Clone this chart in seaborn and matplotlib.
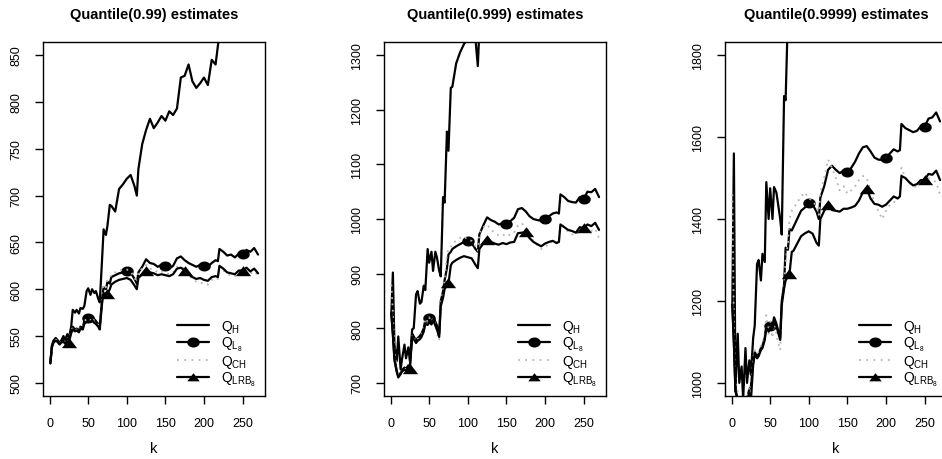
import numpy as np
import pandas as pd
import matplotlib
matplotlib.use("Agg")
import matplotlib.pyplot as plt
from matplotlib.lines import Line2D
import seaborn as sns

# k values shared by all series
k = [1, 3, 5, 8, 10, 13, 15, 18, 20, 23, 25, 28, 30, 33, 35, 38, 40, 43, 45, 48,
     50, 53, 55, 58, 60, 63, 65, 68, 70, 73, 75, 78, 80, 85, 90, 95, 100, 105, 110, 113,
     115, 120, 125, 130, 135, 140, 145, 150, 155, 160, 165, 170, 175, 180, 185, 190, 195, 200, 205, 210,
     215, 218, 220, 225, 230, 235, 240, 245, 250, 255, 260, 265, 270]

titles = ["Quantile(0.99) estimates", "Quantile(0.999) estimates", "Quantile(0.9999) estimates"]
y_ranges = [(500, 850), (700, 1300), (1000, 1800)]
y_ticks = [[500, 550, 600, 650, 700, 750, 800, 850],
           [700, 800, 900, 1000, 1100, 1200, 1300],
           [1000, 1200, 1400, 1600, 1800]]
x_ticks = [0, 50, 100, 150, 200, 250]

# ---- panel 1 : q = 0.99 ----
p1_H = [521, 540, 545, 548, 546, 543, 545, 550, 546, 552, 548, 560, 578, 575, 578, 574, 580, 579, 582, 598,
        601, 594, 600, 596, 598, 590, 586, 632, 664, 658, 668, 690, 689, 683, 707, 712, 718, 722, 710, 700,
        728, 755, 770, 782, 772, 778, 785, 780, 790, 786, 793, 826, 828, 840, 822, 815, 820, 826, 818, 845,
        840, 860, 872, 885, 895, 905, 915, 925, 935, 945, 955, 960, 965]
p1_L8 = [521, 538, 544, 546, 545, 542, 544, 546, 543, 547, 546, 556, 560, 557, 558, 556, 560, 559, 566, 568,
         569, 568, 571, 568, 566, 563, 560, 590, 602, 600, 608, 606, 613, 615, 617, 618, 620, 618, 611, 606,
         618, 624, 632, 628, 627, 624, 626, 625, 622, 625, 633, 635, 631, 628, 626, 624, 626, 625, 624, 628,
         631, 630, 643, 640, 636, 637, 634, 638, 638, 642, 640, 644, 637]
p1_CH = [520, 537, 544, 546, 545, 542, 544, 546, 543, 546, 545, 555, 559, 556, 557, 555, 559, 558, 566, 568,
         569, 567, 570, 566, 565, 562, 559, 592, 605, 602, 610, 612, 616, 618, 620, 621, 621, 619, 612, 607,
         619, 622, 626, 622, 621, 618, 619, 618, 616, 618, 624, 625, 621, 615, 611, 608, 607, 606, 605, 610,
         612, 611, 624, 620, 616, 615, 614, 618, 618, 620, 617, 619, 615]
p1_LRB8 = [521, 538, 543, 545, 544, 541, 543, 544, 542, 544, 543, 553, 557, 555, 556, 554, 558, 557, 563, 565,
           566, 565, 567, 564, 563, 560, 557, 585, 596, 594, 595, 600, 605, 608, 610, 611, 612, 610, 604, 600,
           612, 616, 620, 618, 617, 615, 616, 615, 614, 616, 622, 623, 620, 616, 613, 611, 612, 610, 609, 613,
           614, 613, 625, 622, 618, 617, 616, 620, 620, 623, 619, 622, 617]

# ---- panel 2 : q = 0.999 ----
p2_H = [827, 902, 770, 740, 785, 725, 745, 770, 745, 765, 740, 798, 800, 862, 868, 845, 848, 878, 870, 945,
        920, 940, 905, 940, 930, 905, 895, 1040, 1030, 1160, 1125, 1240, 1242, 1285, 1305, 1320, 1330, 1335, 1328, 1280,
        1345, 1380, 1400, 1420, 1430, 1440, 1450, 1460, 1470, 1480, 1490, 1500, 1510, 1520, 1525, 1530, 1535, 1540, 1545, 1550,
        1555, 1560, 1570, 1575, 1580, 1585, 1590, 1595, 1600, 1605, 1610, 1615, 1620]
p2_L8 = [827, 790, 745, 722, 712, 718, 724, 728, 726, 732, 730, 790, 785, 778, 782, 786, 790, 800, 815, 812,
         818, 814, 822, 812, 805, 790, 850, 868, 888, 910, 935, 940, 945, 950, 954, 958, 960, 956, 945, 940,
         972, 988, 1003, 998, 995, 990, 992, 990, 996, 1002, 1018, 1020, 1014, 1005, 1000, 998, 997, 1000, 1005, 1010,
         1012, 1010, 1045, 1040, 1033, 1031, 1030, 1040, 1036, 1050, 1049, 1055, 1040]
p2_CH = [880, 830, 760, 725, 714, 718, 722, 727, 724, 730, 728, 788, 783, 776, 780, 784, 788, 798, 818, 812,
         820, 812, 818, 808, 790, 778, 845, 870, 890, 935, 945, 948, 955, 960, 965, 968, 962, 960, 950, 942,
         975, 985, 990, 980, 975, 970, 972, 968, 972, 975, 988, 992, 985, 970, 960, 952, 945, 948, 955, 960,
         958, 956, 992, 985, 976, 972, 970, 980, 975, 982, 978, 982, 965]
p2_LRB8 = [827, 788, 742, 720, 710, 716, 721, 724, 722, 727, 726, 785, 780, 773, 777, 780, 784, 794, 808, 806,
           811, 807, 815, 805, 798, 784, 840, 856, 872, 878, 882, 915, 920, 925, 929, 932, 930, 928, 916, 910,
           945, 955, 962, 958, 955, 953, 956, 954, 957, 958, 974, 975, 976, 965, 958, 954, 950, 955, 958, 960,
           956, 958, 990, 985, 980, 978, 975, 985, 983, 990, 987, 993, 980]

# ---- panel 3 : q = 0.9999 ----
p3_H = [1190, 1560, 980, 1120, 1000, 1040, 960, 1085, 1000, 1055, 1020, 1110, 1140, 1290, 1300, 1250, 1315, 1295, 1490, 1400,
        1475, 1400, 1478, 1465, 1440, 1400, 1362, 1700, 1690, 1900, 1950, 2000, 2020, 2050, 2080, 2100, 2120, 2140, 2150, 2160,
        2170, 2190, 2210, 2230, 2240, 2250, 2260, 2270, 2280, 2290, 2300, 2320, 2330, 2340, 2350, 2360, 2370, 2380, 2390, 2400,
        2410, 2415, 2420, 2430, 2440, 2450, 2460, 2470, 2480, 2490, 2500, 2510, 2520]
p3_L8 = [1190, 1100, 985, 960, 950, 940, 955, 965, 960, 985, 990, 1050, 1075, 1065, 1070, 1085, 1090, 1110, 1140, 1130,
         1140, 1135, 1160, 1145, 1130, 1110, 1200, 1240, 1330, 1325, 1375, 1372, 1380, 1400, 1420, 1428, 1438, 1435, 1418, 1400,
         1452, 1480, 1520, 1530, 1520, 1512, 1518, 1514, 1525, 1540, 1560, 1575, 1578, 1565, 1550, 1545, 1544, 1548, 1560, 1570,
         1565, 1568, 1632, 1622, 1617, 1612, 1615, 1626, 1625, 1645, 1648, 1660, 1638]
p3_CH = [1460, 1150, 1000, 980, 960, 950, 965, 970, 960, 990, 985, 1060, 1080, 1070, 1075, 1090, 1095, 1120, 1165, 1120,
         1150, 1110, 1150, 1120, 1100, 1080, 1180, 1230, 1300, 1340, 1400, 1420, 1425, 1440, 1455, 1465, 1450, 1445, 1430, 1410,
         1465, 1500, 1545, 1525, 1500, 1470, 1480, 1462, 1470, 1480, 1495, 1505, 1500, 1470, 1440, 1420, 1400, 1420, 1435, 1440,
         1452, 1450, 1525, 1500, 1488, 1480, 1478, 1490, 1488, 1500, 1495, 1490, 1460]
p3_LRB8 = [1190, 1095, 980, 955, 945, 935, 950, 960, 955, 975, 955, 1045, 1070, 1060, 1065, 1080, 1085, 1105, 1135, 1125,
           1135, 1130, 1155, 1140, 1125, 1105, 1190, 1230, 1250, 1260, 1266, 1320, 1322, 1340, 1358, 1365, 1370, 1364, 1342, 1335,
           1400, 1420, 1435, 1422, 1420, 1418, 1425, 1425, 1428, 1432, 1445, 1465, 1474, 1450, 1437, 1435, 1430, 1435, 1445, 1455,
           1450, 1455, 1505, 1500, 1490, 1482, 1485, 1495, 1495, 1510, 1508, 1518, 1495]

panels = [(p1_H, p1_L8, p1_CH, p1_LRB8),
          (p2_H, p2_L8, p2_CH, p2_LRB8),
          (p3_H, p3_L8, p3_CH, p3_LRB8)]

circle_k = [50, 100, 150, 200, 250]
triangle_k = [25, 75, 125, 175, 250]
circle_idx = [k.index(v) for v in circle_k]
triangle_idx = [k.index(v) for v in triangle_k]

sns.set_style("ticks")
plt.rcParams['font.family'] = ['Liberation Sans', 'DejaVu Sans']
plt.rcParams['mathtext.fontset'] = 'custom'
plt.rcParams['mathtext.rm'] = 'Liberation Sans'
plt.rcParams['axes.edgecolor'] = 'black'
plt.rcParams['axes.linewidth'] = 1.0
plt.rcParams['text.color'] = 'black'
plt.rcParams['axes.labelcolor'] = 'black'
plt.rcParams['xtick.color'] = 'black'
plt.rcParams['ytick.color'] = 'black'

# wide triangle / circle markers (the reference looks a bit stretched)
tri = [(-1.3, -0.8), (1.3, -0.8), (0, 0.9), (-1.3, -0.8)]
ang = np.linspace(0, 2 * np.pi, 40)
ell = list(zip(1.25 * np.cos(ang), np.sin(ang)))

grey = '#b5b5b5'
fig = plt.figure(figsize=(9.42, 4.6), dpi=100)
lefts = [43 / 942, 384 / 942, 725 / 942]

for i, (qh, ql8, qch, qlrb) in enumerate(panels):
    ax = fig.add_axes([lefts[i], 63 / 460, 222 / 942, 354 / 460])
    sns.lineplot(x=k, y=qh, ax=ax, color='black', lw=1.6)
    sns.lineplot(x=k, y=ql8, ax=ax, color='black', lw=1.6, marker=ell,
                 markevery=circle_idx, markersize=9, markeredgewidth=0)
    sns.lineplot(x=k, y=qch, ax=ax, color=grey, lw=1.3, linestyle=(0, (1, 2.5)))
    sns.lineplot(x=k, y=qlrb, ax=ax, color='black', lw=1.6, marker=tri,
                 markevery=triangle_idx, markersize=11, markeredgewidth=0)

    lo, hi = y_ranges[i]
    pad = (hi - lo) * 0.04
    ax.set_ylim(lo - pad, hi + pad)
    ax.set_xlim(-8.5, 279)
    ax.set_xticks(x_ticks)
    ax.set_yticks(y_ticks[i])
    ax.tick_params(axis='both', direction='out', length=6, width=1, labelsize=9,
                   color='black', labelcolor='black')
    ax.tick_params(axis='x', pad=9)
    ax.tick_params(axis='y', labelrotation=90, pad=9)
    for lab in ax.get_yticklabels():
        lab.set_va('center')
    for sp in ax.spines.values():
        sp.set_visible(True)
        sp.set_color('black')
    ax.set_title(titles[i], fontsize=10.5, fontweight='bold', pad=17, color='black')
    ax.set_xlabel('k', fontsize=10.5, labelpad=9, color='black')
    ax.set_ylabel('')

    handles = [
        Line2D([], [], color='black', lw=1.6),
        Line2D([], [], color='black', lw=1.6, marker=ell, markersize=9, markeredgewidth=0),
        Line2D([], [], color=grey, lw=1.3, linestyle=(0, (1, 3))),
        Line2D([], [], color='black', lw=1.6, marker=tri, markersize=9, markeredgewidth=0),
    ]
    labels = [r'$\mathregular{Q_{H}}$', r'$\mathregular{Q_{L_8}}$',
              r'$\mathregular{Q_{CH}}$', r'$\mathregular{Q_{LRB_8}}$']
    ax.legend(handles, labels, loc='lower right', frameon=False, fontsize=10,
              handlelength=2.3, handletextpad=0.9, labelspacing=0.0,
              borderaxespad=0.4, borderpad=0.2, labelcolor='black')

fig.savefig('out.png', dpi=100)
